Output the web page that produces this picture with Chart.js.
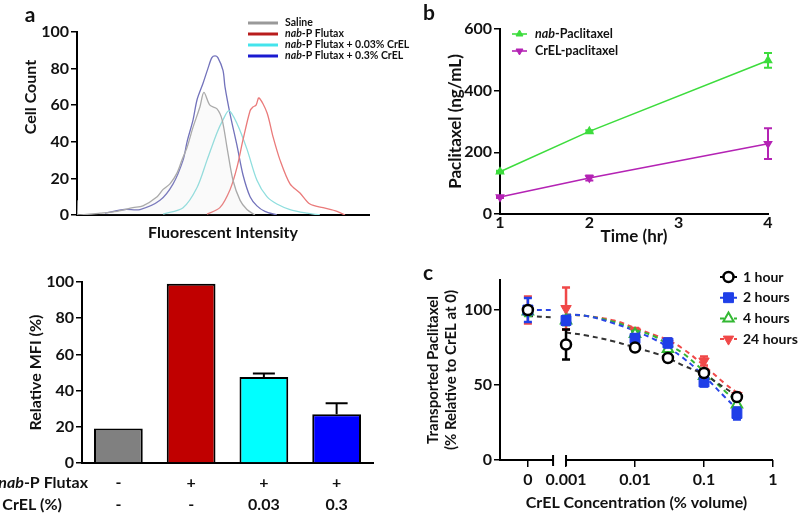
<!DOCTYPE html>
<html>
<head>
<meta charset="utf-8">
<script src="https://cdn.jsdelivr.net/npm/chart.js@4.4.1/dist/chart.umd.min.js"></script>
<style>
body{margin:0;background:#fff;}
#wrap{position:relative;width:798px;height:515px;background:#fff;overflow:hidden;}
canvas{position:absolute;}
</style>
</head>
<body>
<div id="wrap">
<canvas id="hist" width="420" height="250" style="left:0;top:0"></canvas>
<canvas id="mfi" width="400" height="265" style="left:0;top:250px"></canvas>
<canvas id="plasma" width="398" height="250" style="left:400px;top:0"></canvas>
<canvas id="transport" width="398" height="265" style="left:400px;top:250px"></canvas>
</div>
<script>
//data - panel a, histogram (x = fluorescence channel, y = cell count)
var salineX = [0, 3, 81, 140, 196, 231, 281, 302, 326, 351, 368, 386, 407, 431, 445, 466, 491, 509, 526, 547, 572, 596, 624];
var salineY = [8, 0, 1, 2, 4, 5, 10, 14, 17, 23, 30, 37, 48, 59, 67, 60, 58, 52, 37, 19, 8, 3, 0];
var flutaxX = [456, 501, 537, 561, 582, 607, 617, 628, 638, 666, 687, 712, 747, 782, 817, 863, 912, 940];
var flutaxY = [0.5, 4, 14, 26, 41, 57, 59, 60, 64, 56, 43, 30, 17, 12, 6, 4, 2, 0];
var crel003X = [302, 372, 421, 456, 491, 512, 533, 561, 596, 631, 666, 701, 747, 807, 852];
var crel003Y = [0.5, 4, 15, 30, 45, 52, 57, 50, 36, 19, 10, 6, 3, 1, 0];
var crel03X = [98, 168, 221, 291, 337, 372, 386, 407, 421, 442, 459, 473, 484, 494, 512, 519, 537, 561, 582, 607, 631, 659, 701];
var crel03Y = [1, 3, 3, 8, 17, 30, 40, 52, 63, 72, 80, 86, 87, 86, 79, 70, 55, 38, 22, 10, 5, 2, 0];

//data - panel a, relative MFI bars
var mfiGroups = [['-', '-'], ['+', '-'], ['+', '0.03'], ['+', '0.3']];
var mfiValues = [19, 99, 47.5, 27];
var mfiErrors = [0, 0, 2, 6];

//data - panel b
var timeHr = [1, 2, 4];
var nabPaclitaxel = [137, 268, 498];
var nabPaclitaxelErr = [3, 4, 24];
var crelPaclitaxel = [55, 117, 228];
var crelPaclitaxelErr = [3, 8, 50];

//data - panel c
var crelConc = [0, 0.001, 0.01, 0.03, 0.1, 0.3];
var hour1 = [100, 77, 75, 68, 58, 42];
var hour1Err = [2, 10, 2, 2, 2, 2];
var hour2 = [100, 93, 81, 78, 52, 31];
var hour2Err = [8, 3, 3, 3, 3, 4];
var hour4 = [99, 93, 84, 74, 56, 37];
var hour4Err = [3, 3, 2, 3, 3, 3];
var hour24 = [100, 101, 86, 78, 66, 43];
var hour24Err = [9, 14, 2, 3, 3, 2];
var fitConc = [0.001, 0.002, 0.005, 0.01, 0.02, 0.03, 0.05, 0.1, 0.2, 0.3];
var fit1h = [85, 83, 79, 75, 71, 68, 63, 57, 48, 43];
var fit2h = [97, 96, 91, 86, 80, 75, 68, 56, 42, 34];
var fit4h = [97, 96, 92, 87, 82, 77, 71, 59, 46, 39];
var fit24h = [97, 96, 93, 88, 83, 80, 74, 63, 51, 45];
var zeroFitConc = [0, 0.00065];
var zeroFit1h = [96, 95];
var zeroFit2h = [100, 100];
var xTicksC = [0, 0.001, 0.01, 0.1, 1];
var xTickLabelsC = ['0', '0.001', '0.01', '0.1', '1'];
var yTicksC = [0, 50, 100];

//where "0" sits on the broken log axis
var ZERO_POS = 0.00028;
function concToAxis(c){
    return c === 0 ? ZERO_POS : c;
}
function toPoints(xs, ys){
    return xs.map(function(x, i){ return {x: concToAxis(x), y: ys[i]}; });
}

Chart.defaults.font.family = 'Lato, "Open Sans", sans-serif';
Chart.defaults.font.weight = 'bold';
Chart.defaults.font.size = 16;
Chart.defaults.color = '#111';
Chart.defaults.animation = false;
Chart.defaults.plugins.legend.display = false;
Chart.defaults.plugins.tooltip.enabled = false;

//text with an italic "nab" prefix
function drawLabel(ctx, text, x, y, size, align, rotate){
    var parts = text.indexOf('nab') === 0 ? [['nab', true], [text.slice(3), false]] : [[text, false]];
    var fonts = parts.map(function(p){ return (p[1] ? 'italic ' : '') + 'bold ' + size + 'px Lato, sans-serif'; });
    var w = 0;
    parts.forEach(function(p, i){ ctx.font = fonts[i]; w += ctx.measureText(p[0]).width; });
    ctx.save();
    ctx.translate(x, y);
    if (rotate) ctx.rotate(rotate * Math.PI / 180);
    var cx = align === 'right' ? -w : (align === 'center' ? -w / 2 : 0);
    ctx.textBaseline = 'middle';
    ctx.textAlign = 'left';
    ctx.fillStyle = '#111';
    parts.forEach(function(p, i){
        ctx.font = fonts[i];
        ctx.fillText(p[0], cx, 0);
        cx += ctx.measureText(p[0]).width;
    });
    ctx.restore();
}

function drawMarker(ctx, ds, x, y){
    var r = ds.pointRadius || 4;
    ctx.save();
    ctx.fillStyle = ds.pointBackgroundColor || ds.backgroundColor || ds.borderColor;
    ctx.strokeStyle = ds.borderColor;
    ctx.lineWidth = ds.pointBorderWidth || 1;
    ctx.setLineDash([]);
    ctx.beginPath();
    if (ds.pointStyle === 'rect'){
        var s = Math.SQRT1_2 * r;
        ctx.rect(x - s, y - s, 2 * s, 2 * s);
    } else if (ds.pointStyle === 'triangle'){
        var d = ds.pointRotation === 180 ? -1 : 1;
        ctx.moveTo(x, y - d * r);
        ctx.lineTo(x - r * 0.866, y + d * r * 0.5);
        ctx.lineTo(x + r * 0.866, y + d * r * 0.5);
        ctx.closePath();
    } else {
        ctx.arc(x, y, r, 0, Math.PI * 2);
    }
    ctx.fill();
    ctx.stroke();
    ctx.restore();
}

//error bars, drawn under each dataset
var errorBarPlugin = {
    id: 'errorBars',
    beforeDatasetDraw: function(chart, args){
        var ds = chart.data.datasets[args.index];
        if (!ds.errors) return;
        var meta = args.meta;
        var yScale = chart.scales[meta.yAxisID];
        var ctx = chart.ctx;
        ctx.save();
        ctx.strokeStyle = ds.errorColor || ds.borderColor;
        ctx.lineWidth = ds.errorWidth || 2;
        meta.data.forEach(function(el, i){
            var e = ds.errors[i];
            if (!e) return;
            var v = ds.data[i];
            if (typeof v === 'object') v = v.y;
            var top = yScale.getPixelForValue(v + e);
            var bot = ds.errorUpOnly ? yScale.getPixelForValue(v) : yScale.getPixelForValue(v - e);
            var half = (ds.capWidth || 8) / 2;
            ctx.beginPath();
            ctx.moveTo(el.x, top); ctx.lineTo(el.x, bot);
            ctx.moveTo(el.x - half, top); ctx.lineTo(el.x + half, top);
            if (!ds.errorUpOnly){ ctx.moveTo(el.x - half, bot); ctx.lineTo(el.x + half, bot); }
            ctx.stroke();
        });
        ctx.restore();
    }
};

var legendPlugin = {
    id: 'panelLegend',
    afterDraw: function(chart, args, opts){
        if (!opts || opts.x === undefined) return;
        var ctx = chart.ctx, row = 0;
        chart.data.datasets.forEach(function(ds){
            if (!ds.label) return;
            var y = opts.y + row * opts.dy;
            row++;
            ctx.save();
            ctx.strokeStyle = ds.legendColor || ds.borderColor;
            ctx.lineWidth = opts.lineWidth;
            ctx.setLineDash(opts.dash || []);
            ctx.beginPath();
            ctx.moveTo(opts.x, y);
            ctx.lineTo(opts.x + opts.lineLen, y);
            ctx.stroke();
            ctx.restore();
            if (opts.marker) drawMarker(ctx, ds, opts.x + opts.lineLen / 2, y);
            drawLabel(ctx, ds.label, opts.x + opts.lineLen + opts.gap, y, opts.size, 'left');
        });
    }
};

var textPlugin = {
    id: 'texts',
    afterDraw: function(chart, args, opts){
        if (!opts || !opts.items) return;
        opts.items.forEach(function(t){
            drawLabel(chart.ctx, t.text, t.x, t.y, t.size, t.align || 'left', t.rotate);
        });
    }
};

var brokenAxisPlugin = {
    id: 'brokenAxis',
    afterDraw: function(chart, args, opts){
        if (!opts || !opts.enabled) return;
        var x = chart.scales.x, ctx = chart.ctx, y0 = chart.chartArea.bottom;
        var b1 = x.getPixelForValue(opts.from), b2 = x.getPixelForValue(opts.to);
        ctx.save();
        ctx.strokeStyle = '#000';
        ctx.lineWidth = 2;
        ctx.beginPath();
        ctx.moveTo(chart.chartArea.left - 1, y0); ctx.lineTo(b1, y0);
        ctx.moveTo(b2, y0); ctx.lineTo(chart.chartArea.right, y0);
        ctx.moveTo(b1, y0 - 5); ctx.lineTo(b1, y0 + 6);
        ctx.moveTo(b2, y0 - 5); ctx.lineTo(b2, y0 + 6);
        ctx.stroke();
        ctx.restore();
    }
};

function yAxis(min, max, step, width, title, titlePad, titleSize){
    return {
        min: min,
        max: max,
        ticks: {stepSize: step, padding: 2, font: {size: 16}},
        grid: {drawOnChartArea: false, drawTicks: true, tickLength: 6, color: '#000', lineWidth: 1.5},
        border: {display: true, color: '#000', width: 2},
        title: {display: !!title, text: title, padding: {top: titlePad, bottom: 0}, font: {size: titleSize}},
        afterFit: function(s){ s.width = width; }
    };
}

function chartHistogram(){
    var ctx = document.getElementById('hist').getContext('2d');
    new Chart(ctx, {
        type: 'scatter',
        data: {
            datasets: [{
                label: 'Saline',
                data: toPoints(salineX, salineY),
                borderColor: '#aaaaaa',
                legendColor: '#999999',
                backgroundColor: 'rgba(205, 205, 205, 0.1)',
                fill: 'origin'
            }, {
                label: 'nab-P Flutax',
                data: toPoints(flutaxX, flutaxY),
                borderColor: '#ea7a7a',
                legendColor: '#b81c1c'
            }, {
                label: 'nab-P Flutax + 0.03% CrEL',
                data: toPoints(crel003X, crel003Y),
                borderColor: '#8fdede',
                legendColor: '#44e4ec'
            }, {
                label: 'nab-P Flutax + 0.3% CrEL',
                data: toPoints(crel03X, crel03Y),
                borderColor: '#7272bb',
                legendColor: '#1a1ad0'
            }]
        },
        options: {
            responsive: false,
            showLine: true,
            datasets: {scatter: {pointRadius: 0, borderWidth: 1.3, tension: 0.3}},
            layout: {padding: {left: 0, top: 32, right: 51, bottom: 0}},
            scales: {
                x: {
                    type: 'linear', min: 0, max: 1024,
                    ticks: {display: false},
                    grid: {display: false},
                    border: {display: true, color: '#000', width: 2},
                    title: {display: true, text: 'Fluorescent Intensity', padding: {top: 0, bottom: 8}, font: {size: 16}},
                    afterFit: function(s){ s.height = 35; }
                },
                y: yAxis(0, 100, 20, 77, null, 0, 16)
            },
            plugins: {
                panelLegend: {x: 248, y: 23, dy: 11, lineLen: 30, gap: 7, lineWidth: 3, size: 10.5},
                texts: {items: [
                    {text: 'a', x: 30, y: 15, size: 21, align: 'center'},
                    {text: 'Cell Count', x: 31, y: 97, size: 16, align: 'center', rotate: -90}
                ]}
            }
        },
        plugins: [legendPlugin, textPlugin]
    });
}

function chartMfi(){
    var ctx = document.getElementById('mfi').getContext('2d');
    new Chart(ctx, {
        type: 'bar',
        data: {
            labels: mfiGroups,
            datasets: [{
                data: mfiValues,
                backgroundColor: ['#808080', '#c00000', '#00ffff', '#0000ff'],
                borderColor: '#000',
                borderWidth: 2,
                errors: mfiErrors,
                errorUpOnly: true,
                errorColor: '#000',
                capWidth: 22,
                barPercentage: 0.67,
                categoryPercentage: 1
            }]
        },
        options: {
            responsive: false,
            layout: {padding: {left: 0, top: 32, right: 27, bottom: 0}},
            scales: {
                x: {
                    grid: {display: false},
                    border: {display: true, color: '#000', width: 2},
                    ticks: {padding: 1, font: {size: 16, lineHeight: 1.375}},
                    afterFit: function(s){ s.height = 52; }
                },
                y: yAxis(0, 100, 20, 82, 'Relative MFI (%)', 26, 16)
            },
            plugins: {
                texts: {items: [
                    {text: 'nab-P Flutax', x: 88, y: 233, size: 16, align: 'right'},
                    {text: 'CrEL (%)', x: 62, y: 255, size: 16, align: 'right'}
                ]}
            }
        },
        plugins: [errorBarPlugin, textPlugin]
    });
}

function chartPlasma(){
    var ctx = document.getElementById('plasma').getContext('2d');
    new Chart(ctx, {
        type: 'scatter',
        data: {
            datasets: [{
                label: 'nab-Paclitaxel',
                data: toPoints(timeHr, nabPaclitaxel),
                borderColor: '#3ddc3d',
                backgroundColor: '#3ddc3d',
                pointStyle: 'triangle',
                pointRadius: 4,
                errors: nabPaclitaxelErr,
                capWidth: 8
            }, {
                label: 'CrEL-paclitaxel',
                data: toPoints(timeHr, crelPaclitaxel),
                borderColor: '#b423b4',
                backgroundColor: '#b423b4',
                pointStyle: 'triangle',
                pointRotation: 180,
                pointRadius: 4,
                errors: crelPaclitaxelErr,
                capWidth: 8
            }]
        },
        options: {
            responsive: false,
            showLine: true,
            datasets: {scatter: {borderWidth: 1.6, clip: false}},
            layout: {padding: {left: 0, top: 29, right: 30, bottom: 0}},
            scales: {
                x: {
                    type: 'linear', min: 1, max: 4,
                    ticks: {stepSize: 1, padding: -1, font: {size: 16}},
                    grid: {drawOnChartArea: false, drawTicks: false},
                    border: {display: true, color: '#000', width: 2},
                    title: {display: true, text: 'Time (hr)', padding: {top: 0, bottom: 3}, font: {size: 17}},
                    afterFit: function(s){ s.height = 36; }
                },
                y: yAxis(0, 600, 200, 100, 'Paclitaxel (ng/mL)', 45, 17)
            },
            plugins: {
                panelLegend: {x: 112, y: 34, dy: 17, lineLen: 15, gap: 8, lineWidth: 1.6, size: 12.5, marker: true},
                texts: {items: [{text: 'b', x: 29, y: 13, size: 21, align: 'center'}]}
            }
        },
        plugins: [errorBarPlugin, legendPlugin, textPlugin]
    });
}

function chartTransport(){
    var ctx = document.getElementById('transport').getContext('2d');
    var fitStyle = {showLine: true, pointRadius: 0, borderWidth: 2, borderDash: [5, 4], tension: 0.4};
    new Chart(ctx, {
        type: 'scatter',
        data: {
            datasets: [{
                label: '1 hour',
                data: toPoints(crelConc, hour1),
                borderColor: '#000',
                pointBackgroundColor: '#fff',
                pointStyle: 'circle',
                pointRadius: 5,
                pointBorderWidth: 2.5,
                errors: hour1Err,
                errorWidth: 2.5
            }, {
                label: '2 hours',
                data: toPoints(crelConc, hour2),
                borderColor: '#1f3fe8',
                pointBackgroundColor: '#1f3fe8',
                pointStyle: 'rect',
                pointRadius: 7,
                pointBorderWidth: 1,
                errors: hour2Err,
                errorWidth: 2.5
            }, {
                label: '4 hours',
                data: toPoints(crelConc, hour4),
                borderColor: '#33b833',
                pointBackgroundColor: '#fff',
                pointStyle: 'triangle',
                pointRadius: 6,
                pointBorderWidth: 2,
                errors: hour4Err,
                errorWidth: 2.5
            }, {
                label: '24 hours',
                data: toPoints(crelConc, hour24),
                borderColor: '#f04848',
                pointBackgroundColor: '#f04848',
                pointStyle: 'triangle',
                pointRotation: 180,
                pointRadius: 6,
                pointBorderWidth: 1,
                errors: hour24Err,
                errorWidth: 2.5
            },
            Object.assign({data: toPoints(fitConc, fit1h), borderColor: '#333'}, fitStyle),
            Object.assign({data: toPoints(fitConc, fit2h), borderColor: '#2a46e6'}, fitStyle),
            Object.assign({data: toPoints(fitConc, fit4h), borderColor: '#35b535'}, fitStyle),
            Object.assign({data: toPoints(fitConc, fit24h), borderColor: '#f04a4a'}, fitStyle),
            Object.assign({data: toPoints(zeroFitConc, zeroFit1h), borderColor: '#333'}, fitStyle),
            Object.assign({data: toPoints(zeroFitConc, zeroFit2h), borderColor: '#2a46e6'}, fitStyle)
            ]
        },
        options: {
            responsive: false,
            datasets: {scatter: {clip: false}},
            layout: {padding: {left: 0, top: 30, right: 25, bottom: 0}},
            scales: {
                x: {
                    type: 'logarithmic', min: 0.0001104, max: 1,
                    afterBuildTicks: function(s){ s.ticks = xTicksC.map(function(v){ return {value: concToAxis(v)}; }); },
                    ticks: {padding: 3, font: {size: 16}, callback: function(v, i){ return xTickLabelsC[i]; }},
                    grid: {drawOnChartArea: false, drawTicks: true, tickLength: 7, color: '#000', lineWidth: 1.5},
                    border: {display: false},
                    title: {display: true, text: 'CrEL Concentration (% volume)', padding: {top: 0, bottom: 3}, font: {size: 16}},
                    afterFit: function(s){ s.height = 55; }
                },
                y: Object.assign(yAxis(0, 120, 50, 100, ['Transported Paclitaxel', '(% Relative to CrEL at 0)'], 24, 15), {
                    afterBuildTicks: function(s){ s.ticks = yTicksC.map(function(v){ return {value: v}; }); }
                })
            },
            plugins: {
                panelLegend: {x: 320, y: 27, dy: 20.7, lineLen: 17, gap: 6, lineWidth: 2, dash: [4, 3], size: 14, marker: true},
                brokenAxis: {enabled: true, from: 0.000649, to: 0.001},
                texts: {items: [{text: 'c', x: 28, y: 23, size: 21, align: 'center'}]}
            }
        },
        plugins: [errorBarPlugin, legendPlugin, brokenAxisPlugin, textPlugin]
    });
}

chartHistogram();
chartMfi();
chartPlasma();
chartTransport();
</script>
</body>
</html>
